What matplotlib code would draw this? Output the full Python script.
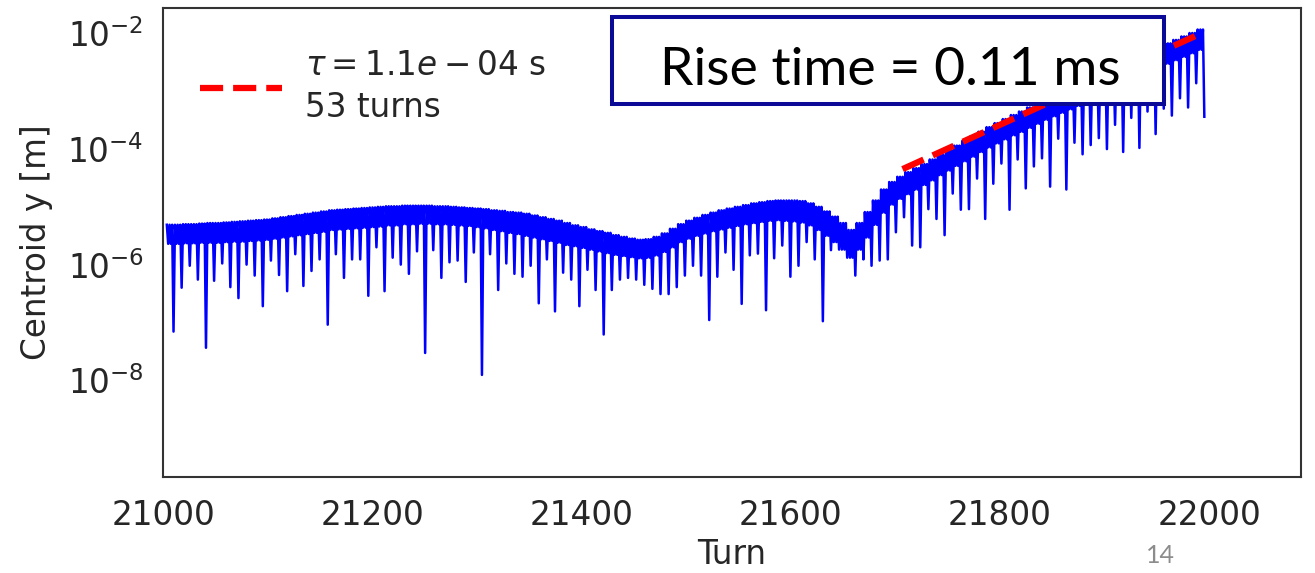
import numpy as np
import matplotlib.pyplot as plt
from matplotlib.patches import Rectangle
from matplotlib.ticker import NullLocator

# spikes of the centroid signal: one every ~7.8 turns
turn_start = 21010
turn_step = 7.76

# log10 of centroid y [m] per spike: top of band, lower edge of band, bottom of spike
peak_exp = [
    -5.31, -5.31, -5.30, -5.30, -5.29, -5.28, -5.28, -5.27, -5.26, -5.25,
    -5.24, -5.23, -5.22, -5.20, -5.18, -5.16, -5.14, -5.12, -5.10, -5.08,
    -5.06, -5.05, -5.04, -5.03, -5.02, -5.01, -5.00, -4.99, -4.99, -4.98,
    -4.98, -4.98, -4.98, -4.99, -4.99, -5.00, -5.01, -5.02, -5.03, -5.04,
    -5.06, -5.07, -5.09, -5.10, -5.12, -5.15, -5.18, -5.21, -5.24, -5.28,
    -5.32, -5.35, -5.39, -5.42, -5.45, -5.49, -5.52, -5.55, -5.57, -5.56,
    -5.52, -5.46, -5.38, -5.30, -5.24, -5.19, -5.14, -5.10, -5.06, -5.03,
    -5.00, -4.97, -4.94, -4.92, -4.90, -4.89, -4.89, -4.89, -4.90, -4.94,
    -5.00, -5.08, -5.17, -5.28, -5.40, -5.28, -5.09, -4.89, -4.70, -4.57,
    -4.48, -4.40, -4.33, -4.26, -4.18, -4.10, -4.02, -3.94, -3.86, -3.78,
    -3.70, -3.62, -3.55, -3.48, -3.41, -3.35, -3.28, -3.21, -3.14, -3.08,
    -3.02, -2.96, -2.90, -2.84, -2.78, -2.71, -2.64, -2.57, -2.50, -2.43,
    -2.36, -2.29, -2.23, -2.17, -2.11, -2.05, -1.99, -1.93,
]
shoulder_exp = [
    -5.64, -5.64, -5.63, -5.63, -5.62, -5.62, -5.62, -5.61, -5.60, -5.60,
    -5.59, -5.58, -5.57, -5.55, -5.53, -5.51, -5.49, -5.47, -5.45, -5.43,
    -5.40, -5.39, -5.38, -5.37, -5.36, -5.35, -5.34, -5.32, -5.32, -5.30,
    -5.30, -5.29, -5.29, -5.30, -5.30, -5.31, -5.32, -5.33, -5.35, -5.37,
    -5.40, -5.42, -5.45, -5.47, -5.50, -5.53, -5.56, -5.59, -5.62, -5.66,
    -5.68, -5.71, -5.74, -5.77, -5.80, -5.83, -5.85, -5.87, -5.89, -5.88,
    -5.84, -5.78, -5.70, -5.61, -5.55, -5.50, -5.46, -5.42, -5.39, -5.36,
    -5.33, -5.30, -5.28, -5.26, -5.24, -5.23, -5.24, -5.25, -5.27, -5.32,
    -5.40, -5.50, -5.61, -5.74, -5.88, -5.74, -5.53, -5.31, -5.10, -4.96,
    -4.86, -4.78, -4.70, -4.62, -4.54, -4.45, -4.37, -4.29, -4.21, -4.13,
    -4.05, -3.97, -3.90, -3.83, -3.76, -3.70, -3.63, -3.56, -3.49, -3.43,
    -3.37, -3.31, -3.25, -3.19, -3.13, -3.06, -2.99, -2.92, -2.85, -2.78,
    -2.71, -2.64, -2.58, -2.52, -2.46, -2.40, -2.34, -2.28,
]
dip_exp = [
    -7.16, -6.40, -6.02, -6.26, -7.44, -6.28, -5.98, -6.39, -6.58, -6.00,
    -6.19, -6.72, -5.93, -6.18, -6.46, -5.82, -6.37, -6.11, -5.91, -7.04,
    -5.82, -6.23, -5.91, -5.91, -6.54, -5.70, -6.46, -5.88, -6.00, -6.16,
    -5.77, -7.53, -5.75, -6.23, -5.96, -5.93, -6.30, -5.79, -7.91, -5.82,
    -6.44, -5.98, -6.16, -6.21, -6.02, -6.67, -5.91, -6.81, -6.14, -6.26,
    -6.72, -6.09, -6.44, -7.21, -6.44, -6.26, -6.23, -6.26, -6.35, -6.42,
    -6.51, -6.51, -6.39, -6.19, -6.02, -6.19, -6.96, -6.21, -5.79, -6.09,
    -6.68, -5.84, -5.81, -6.79, -5.89, -5.67, -6.21, -6.02, -5.61, -5.91,
    -6.98, -5.75, -5.74, -5.88, -6.19, -5.91, -6.02, -5.93, -5.91, -5.44,
    -5.18, -5.67, -5.70, -5.04, -5.21, -5.49, -4.77, -5.05, -5.04, -4.51,
    -5.21, -4.60, -4.25, -5.05, -4.18, -4.68, -4.30, -4.16, -4.65, -3.82,
    -4.70, -3.89, -4.09, -3.93, -3.81, -4.00, -3.58, -4.05, -3.46, -3.98,
    -3.35, -3.74, -3.30, -3.42, -3.12, -3.28, -2.86, -3.44,
]

# exponential fit (tau = 53 turns)
fit_turns = [21707, 21992]
fit_vals = [4.5e-5, 1.0e-2]

x_ticks = [21000, 21200, 21400, 21600, 21800, 22000]
y_ticks = [1e-8, 1e-6, 1e-4, 1e-2]

# build the line: within each spike period the signal jumps between band edges, then dips
offsets = [-6.4, -5.1, -3.8, -2.6, -1.3, 0.0]
turns, vals = [], []
for k in range(len(dip_exp)):
    t = turn_start + k * turn_step
    levels = [peak_exp[k], shoulder_exp[k], peak_exp[k],
              shoulder_exp[k], peak_exp[k], dip_exp[k]]
    turns += [t + o for o in offsets]
    vals += [10.0 ** v for v in levels]

fs = 23.5
txt = '#262626'

fig = plt.figure(figsize=(13.15, 5.73), dpi=100)
ax = fig.add_axes([0.124, 0.1675, 0.8654, 0.8185])

ax.plot(turns, vals, color='#0000ff', lw=1.8)
ax.plot(fit_turns, fit_vals, color='red', ls='--', lw=4.5,
        label=r'$\tau = 1.1e-04$ s' + '\n53 turns')

ax.set_yscale('log')
ax.set_xlim(21000, 22088)
ax.set_ylim(2.1e-10, 2.77e-2)
ax.set_xticks(x_ticks)
ax.set_yticks(y_ticks)
ax.yaxis.set_minor_locator(NullLocator())
ax.tick_params(axis='both', length=0, labelsize=fs, colors=txt)
ax.tick_params(axis='x', pad=16)
ax.tick_params(axis='y', pad=14)
for s in ax.spines.values():
    s.set_color('#333333')
    s.set_linewidth(1.5)

ax.set_xlabel('Turn', fontsize=fs, color=txt, labelpad=4)
ax.set_ylabel('Centroid y [m]', fontsize=fs, color=txt, labelpad=10)

leg = ax.legend(loc='upper left', bbox_to_anchor=(0.007, 0.975), frameon=False,
                fontsize=fs, handlelength=2.5, handletextpad=0.7)
for t in leg.get_texts():
    t.set_color(txt)
    t.set_linespacing(1.35)

# slide annotation box
box = Rectangle((0.4654, 0.8185), 0.4198, 0.1518, transform=fig.transFigure,
                facecolor='white', edgecolor='#0a0a96', lw=2.9, zorder=5)
fig.add_artist(box)
fig.text(0.6768, 0.8517, 'Rise time = 0.11 ms', ha='center', va='baseline',
         fontsize=38.5, family='Lato', color='black', zorder=6)
fig.text(0.8825, 0.0175, '14', ha='center', va='baseline', fontsize=18,
         family='Lato', color='#8c8c8c')

fig.savefig('out.png', dpi=100)
